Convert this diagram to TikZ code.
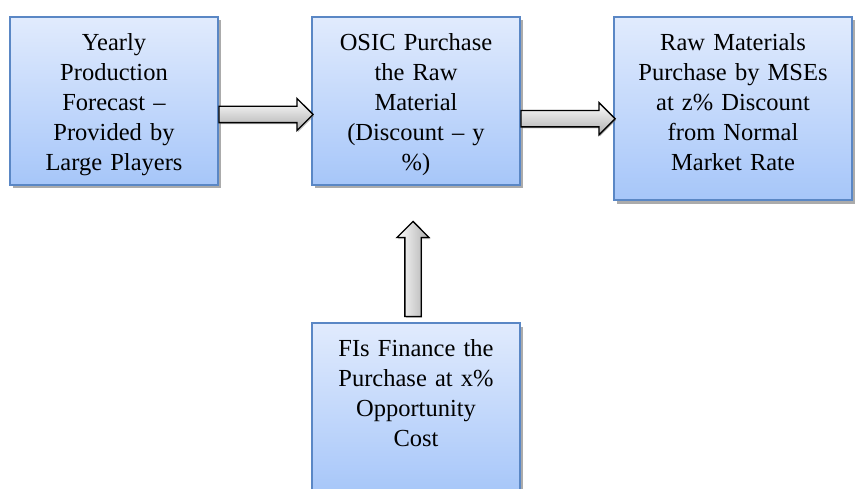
\documentclass[tikz,border=0pt]{standalone}
\usepackage{fontspec}
\setmainfont{Liberation Serif}
\usetikzlibrary{shapes.arrows,shadows,calc}
\definecolor{boxtop}{HTML}{E1EBFD}
\definecolor{boxbot}{HTML}{A6C6F9}
\definecolor{boxline}{HTML}{5A87C5}
\tikzset{
  flowbox/.style={draw=boxline, line width=1.2pt, top color=boxtop, bottom color=boxbot,
    rectangle, inner sep=0pt,
    drop shadow={shadow xshift=3pt, shadow yshift=-3.5pt, opacity=0.55, fill=black!60}},
  boxtext/.style={anchor=north, align=center, text width=204pt, inner sep=0pt,
    font=\fontsize{24.5}{30}\selectfont},
  blockarrow/.style={single arrow, draw=black, line width=1.3pt,
    top color=white, bottom color=black!32, inner xsep=0pt, inner ysep=7.5pt,
    single arrow head extend=8pt, single arrow head indent=0pt,
    drop shadow={shadow xshift=1pt, shadow yshift=-1.5pt, opacity=0.5}}
}
\begin{document}
\begin{tikzpicture}[x=1pt,y=-1pt]
\useasboundingbox (0,0) rectangle (856,489);
% process boxes
\node[flowbox, minimum width=208pt, minimum height=168pt] (yearly) at (114,101) {};
\node[flowbox, minimum width=208pt, minimum height=168pt] (osic) at (416,101) {};
\node[flowbox, minimum width=238pt, minimum height=183pt] (raw) at (733,108.5) {};
\node[flowbox, minimum width=208pt, minimum height=172pt] (fis) at (416,409) {};
% box texts
\node[boxtext] (yearlyT) at ([yshift=-17pt]yearly.north) {Yearly\\Production\\Forecast --\\Provided by\\Large Players};
\node[boxtext] (osicT) at ([yshift=-17pt]osic.north) {OSIC Purchase\\the Raw\\Material\\(Discount -- y\\\%)};
\node[boxtext, text width=232pt] (rawT) at ([yshift=-17pt]raw.north) {Raw Materials\\Purchase by MSEs\\at z\% Discount\\from Normal\\Market Rate};
\node[boxtext] (fisT) at ([yshift=-17pt]fis.north) {FIs Finance the\\Purchase at x\%\\Opportunity\\Cost};
% block arrows between boxes
\node[blockarrow, minimum height=94pt] (a1) at ([xshift=-3pt,yshift=-13.5pt]$(yearly.east)!0.5!(osic.west)$) {};
\node[blockarrow, minimum height=94pt] (a2) at ([xshift=-3pt,yshift=-14pt]$(osic.east)!0.5!(raw.west)$) {};
\node[blockarrow, minimum height=95pt, inner xsep=7.5pt, inner ysep=0pt,
  shape border rotate=90, shading angle=90] (a3) at (413,273) {};
\end{tikzpicture}
\end{document}
